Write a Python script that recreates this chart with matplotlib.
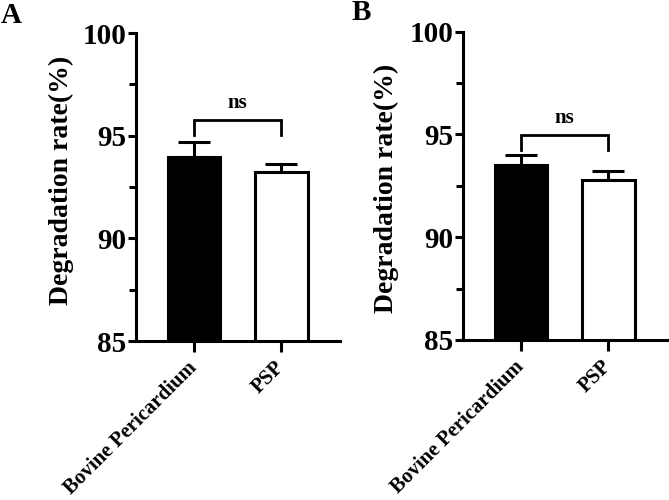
import matplotlib
matplotlib.use('Agg')
import matplotlib.pyplot as plt
from matplotlib.ticker import MultipleLocator, FixedLocator

# ---- data ----
categories = ['Bovine Pericardium', 'PSP']
means_A = [93.96, 93.24]
err_A = [0.72, 0.36]
means_B = [93.50, 92.80]
err_B = [0.49, 0.44]
sig_label = 'ns'
yticks = [85, 90, 95, 100]
ytick_labels = ['85', '90', '95', '100']
panel_labels = ['A', 'B']
ylabel = 'Degradation rate(%)'

plt.rcParams['font.family'] = ['Liberation Serif', 'DejaVu Serif']
plt.rcParams['font.weight'] = 'bold'

fig = plt.figure(figsize=(6.69, 5.0), dpi=100)
W, H = 669, 500
axA = fig.add_axes([136 / W, 1 - 341 / H, 204 / W, 308 / H])
axB = fig.add_axes([463 / W, 1 - 340 / H, 204 / W, 308.5 / H])

LW = 2.2

def draw(ax, means, errs, bracket, ns_y):
    x = list(range(len(categories)))
    ax.bar(x, means, width=0.6, bottom=0, color=['black', 'white'],
           edgecolor='black', linewidth=LW, zorder=2)
    ax.errorbar(x, means, yerr=[[0] * len(errs), errs], fmt='none',
                ecolor='black', elinewidth=LW, capsize=11.5, capthick=LW, zorder=1)
    y0, y1 = bracket
    ax.plot([0, 0, 1, 1], [y0, y1, y1, y0], color='black', lw=2.0,
            solid_joinstyle='miter', clip_on=False)
    ax.text(0.5, ns_y, sig_label, ha='center', va='baseline', fontsize=15,
            fontweight='bold')
    ax.set_ylim(85, 100)
    ax.set_xlim(-0.66, 1.67)
    ax.yaxis.set_major_locator(FixedLocator(yticks))
    ax.set_yticklabels(ytick_labels, fontsize=21, fontweight='bold')
    ax.yaxis.set_minor_locator(MultipleLocator(2.5))
    ax.set_xticks(x)
    ax.set_xticklabels(categories, rotation=45, ha='right', va='center',
                       rotation_mode='anchor', fontsize=15, fontweight='bold')
    for s in ['top', 'right']:
        ax.spines[s].set_visible(False)
    for s in ['left', 'bottom']:
        ax.spines[s].set_linewidth(LW)
    ax.tick_params(axis='y', which='major', length=6, width=LW, pad=1)
    ax.tick_params(axis='y', which='minor', length=5, width=LW)
    ax.tick_params(axis='x', which='major', length=8, width=LW, pad=9)

draw(axA, means_A, err_A, (95.05, 95.75), 96.35)
draw(axB, means_B, err_B, (94.25, 94.98), 95.56)

fig.text(61 / W, 1 - 180 / H, ylabel, rotation=90, ha='center', va='center',
         fontsize=20, fontweight='bold')
fig.text(386 / W, 1 - 188 / H, ylabel, rotation=90, ha='center', va='center',
         fontsize=20, fontweight='bold')

fig.text(1 / W, 1 - 23 / H, panel_labels[0], fontsize=21, fontweight='bold',
         ha='left', va='baseline')
fig.text(352 / W, 1 - 20 / H, panel_labels[1], fontsize=21, fontweight='bold',
         ha='left', va='baseline')

fig.savefig('out.png', dpi=100)
